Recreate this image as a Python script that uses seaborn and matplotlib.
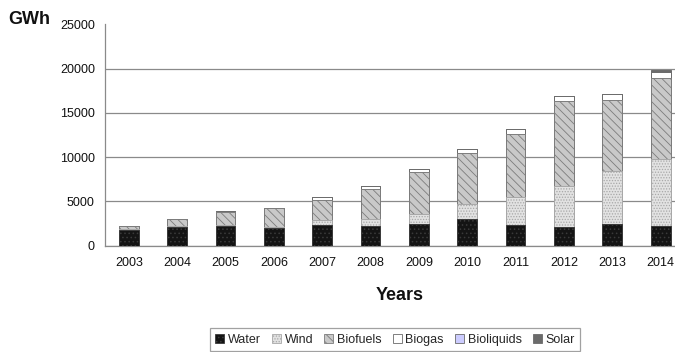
import matplotlib
matplotlib.use("Agg")
import matplotlib.pyplot as plt
from matplotlib.patches import Patch
import numpy as np
import pandas as pd
import seaborn as sns

# Renewable electricity generation by source, GWh
years = ["2003", "2004", "2005", "2006", "2007", "2008",
         "2009", "2010", "2011", "2012", "2013", "2014"]
water = [1700, 2070, 2180, 2000, 2340, 2180, 2460, 2990, 2370, 2110, 2480, 2260]
wind = [150, 80, 120, 100, 560, 840, 1060, 1650, 3140, 4670, 5920, 7530]
biofuels = [370, 850, 1500, 2100, 2260, 3410, 4740, 5840, 7130, 9510, 8000, 9180]
biogas = [30, 50, 90, 50, 280, 250, 390, 450, 510, 570, 680, 630]
bioliquids = [0, 0, 0, 0, 0, 0, 0, 0, 0, 0, 0, 0]
solar = [0, 0, 0, 0, 0, 0, 0, 0, 0, 0, 0, 270]

sources = ["Water", "Wind", "Biofuels", "Biogas", "Bioliquids", "Solar"]
styles = {
    "Water": dict(facecolor="#141414", edgecolor="#3a3a3a", hatch="...."),
    "Wind": dict(facecolor="#e2e2e2", edgecolor="#a8a8a8", hatch="......"),
    "Biofuels": dict(facecolor="#c9c9c9", edgecolor="#7c7c7c", hatch="\\\\\\\\"),
    "Biogas": dict(facecolor="#ffffff", edgecolor="#6a6a6a", hatch=None),
    "Bioliquids": dict(facecolor="#ccccff", edgecolor="#6a6a6a", hatch=None),
    "Solar": dict(facecolor="#6b6b6b", edgecolor="#6b6b6b", hatch=None),
}

df = pd.DataFrame({"year": years, "Water": water, "Wind": wind,
                   "Biofuels": biofuels, "Biogas": biogas,
                   "Bioliquids": bioliquids, "Solar": solar})
# cumulative tops so each layer can be drawn over the one above it
cum = df[sources].cumsum(axis=1)

sns.set_style("white")
plt.rcParams["font.family"] = ["Liberation Sans", "DejaVu Sans"]
plt.rcParams["hatch.linewidth"] = 0.6

fig = plt.figure(figsize=(6.75, 3.52), dpi=100)
ax = fig.add_axes([104.6 / 675, 1 - 245.5 / 352, 580.2 / 675, 221.2 / 352])

for src in reversed(sources):
    st = styles[src]
    sns.barplot(x=df["year"], y=cum[src], ax=ax, order=years, width=0.41,
                color=st["facecolor"], saturation=1, edgecolor=st["edgecolor"],
                hatch=st["hatch"], linewidth=0.7, errorbar=None, zorder=3)

ax.set_xlim(-0.5, len(years) - 0.5)
ax.set_ylim(0, 25000)
ax.set_yticks(np.arange(0, 25001, 5000))
ax.set_yticklabels([str(v) for v in range(0, 25001, 5000)])
ax.yaxis.grid(True, color="#8a8a8a", linewidth=0.9, zorder=0)
ax.set_axisbelow(True)
# no gridline along the top of the value range
ax.get_ygridlines()[-1].set_visible(False)

for side in ("top", "right"):
    ax.spines[side].set_visible(False)
for side in ("left", "bottom"):
    ax.spines[side].set_color("#8a8a8a")
    ax.spines[side].set_linewidth(0.9)

ax.set_xticks(np.arange(len(years)))
ax.set_xticks(np.arange(len(years) + 1) - 0.5, minor=True)
ax.tick_params(axis="x", which="major", length=0, pad=8, labelsize=9,
               labelcolor="#111111")
ax.tick_params(axis="x", which="minor", length=4, color="#8a8a8a", width=0.9)
ax.tick_params(axis="y", length=4, color="#8a8a8a", width=0.9, pad=3,
               labelsize=9, labelcolor="#111111")
ax.set_xlabel("")
ax.set_ylabel("")

fig.text(8 / 675, 1 - 20 / 352, "GWh", ha="left", va="center",
         fontsize=13, fontweight="bold", color="#111111")
fig.text(400 / 675, 1 - 295 / 352, "Years", ha="center", va="center",
         fontsize=13, fontweight="bold", color="#111111")

handles = [Patch(facecolor=styles[s]["facecolor"], edgecolor=styles[s]["edgecolor"],
                 hatch=styles[s]["hatch"], linewidth=0.6, label=s) for s in sources]
leg = fig.legend(handles=handles, loc="upper center",
                 bbox_to_anchor=(395 / 675, 1 - 328 / 352), ncol=6,
                 frameon=True, fancybox=False, fontsize=9,
                 handlelength=0.7, handleheight=0.7, handletextpad=0.3,
                 columnspacing=0.9, borderpad=0.45, borderaxespad=0)
leg.get_frame().set_edgecolor("#8a8a8a")
leg.get_frame().set_linewidth(0.9)

fig.savefig("out.png", dpi=100)
